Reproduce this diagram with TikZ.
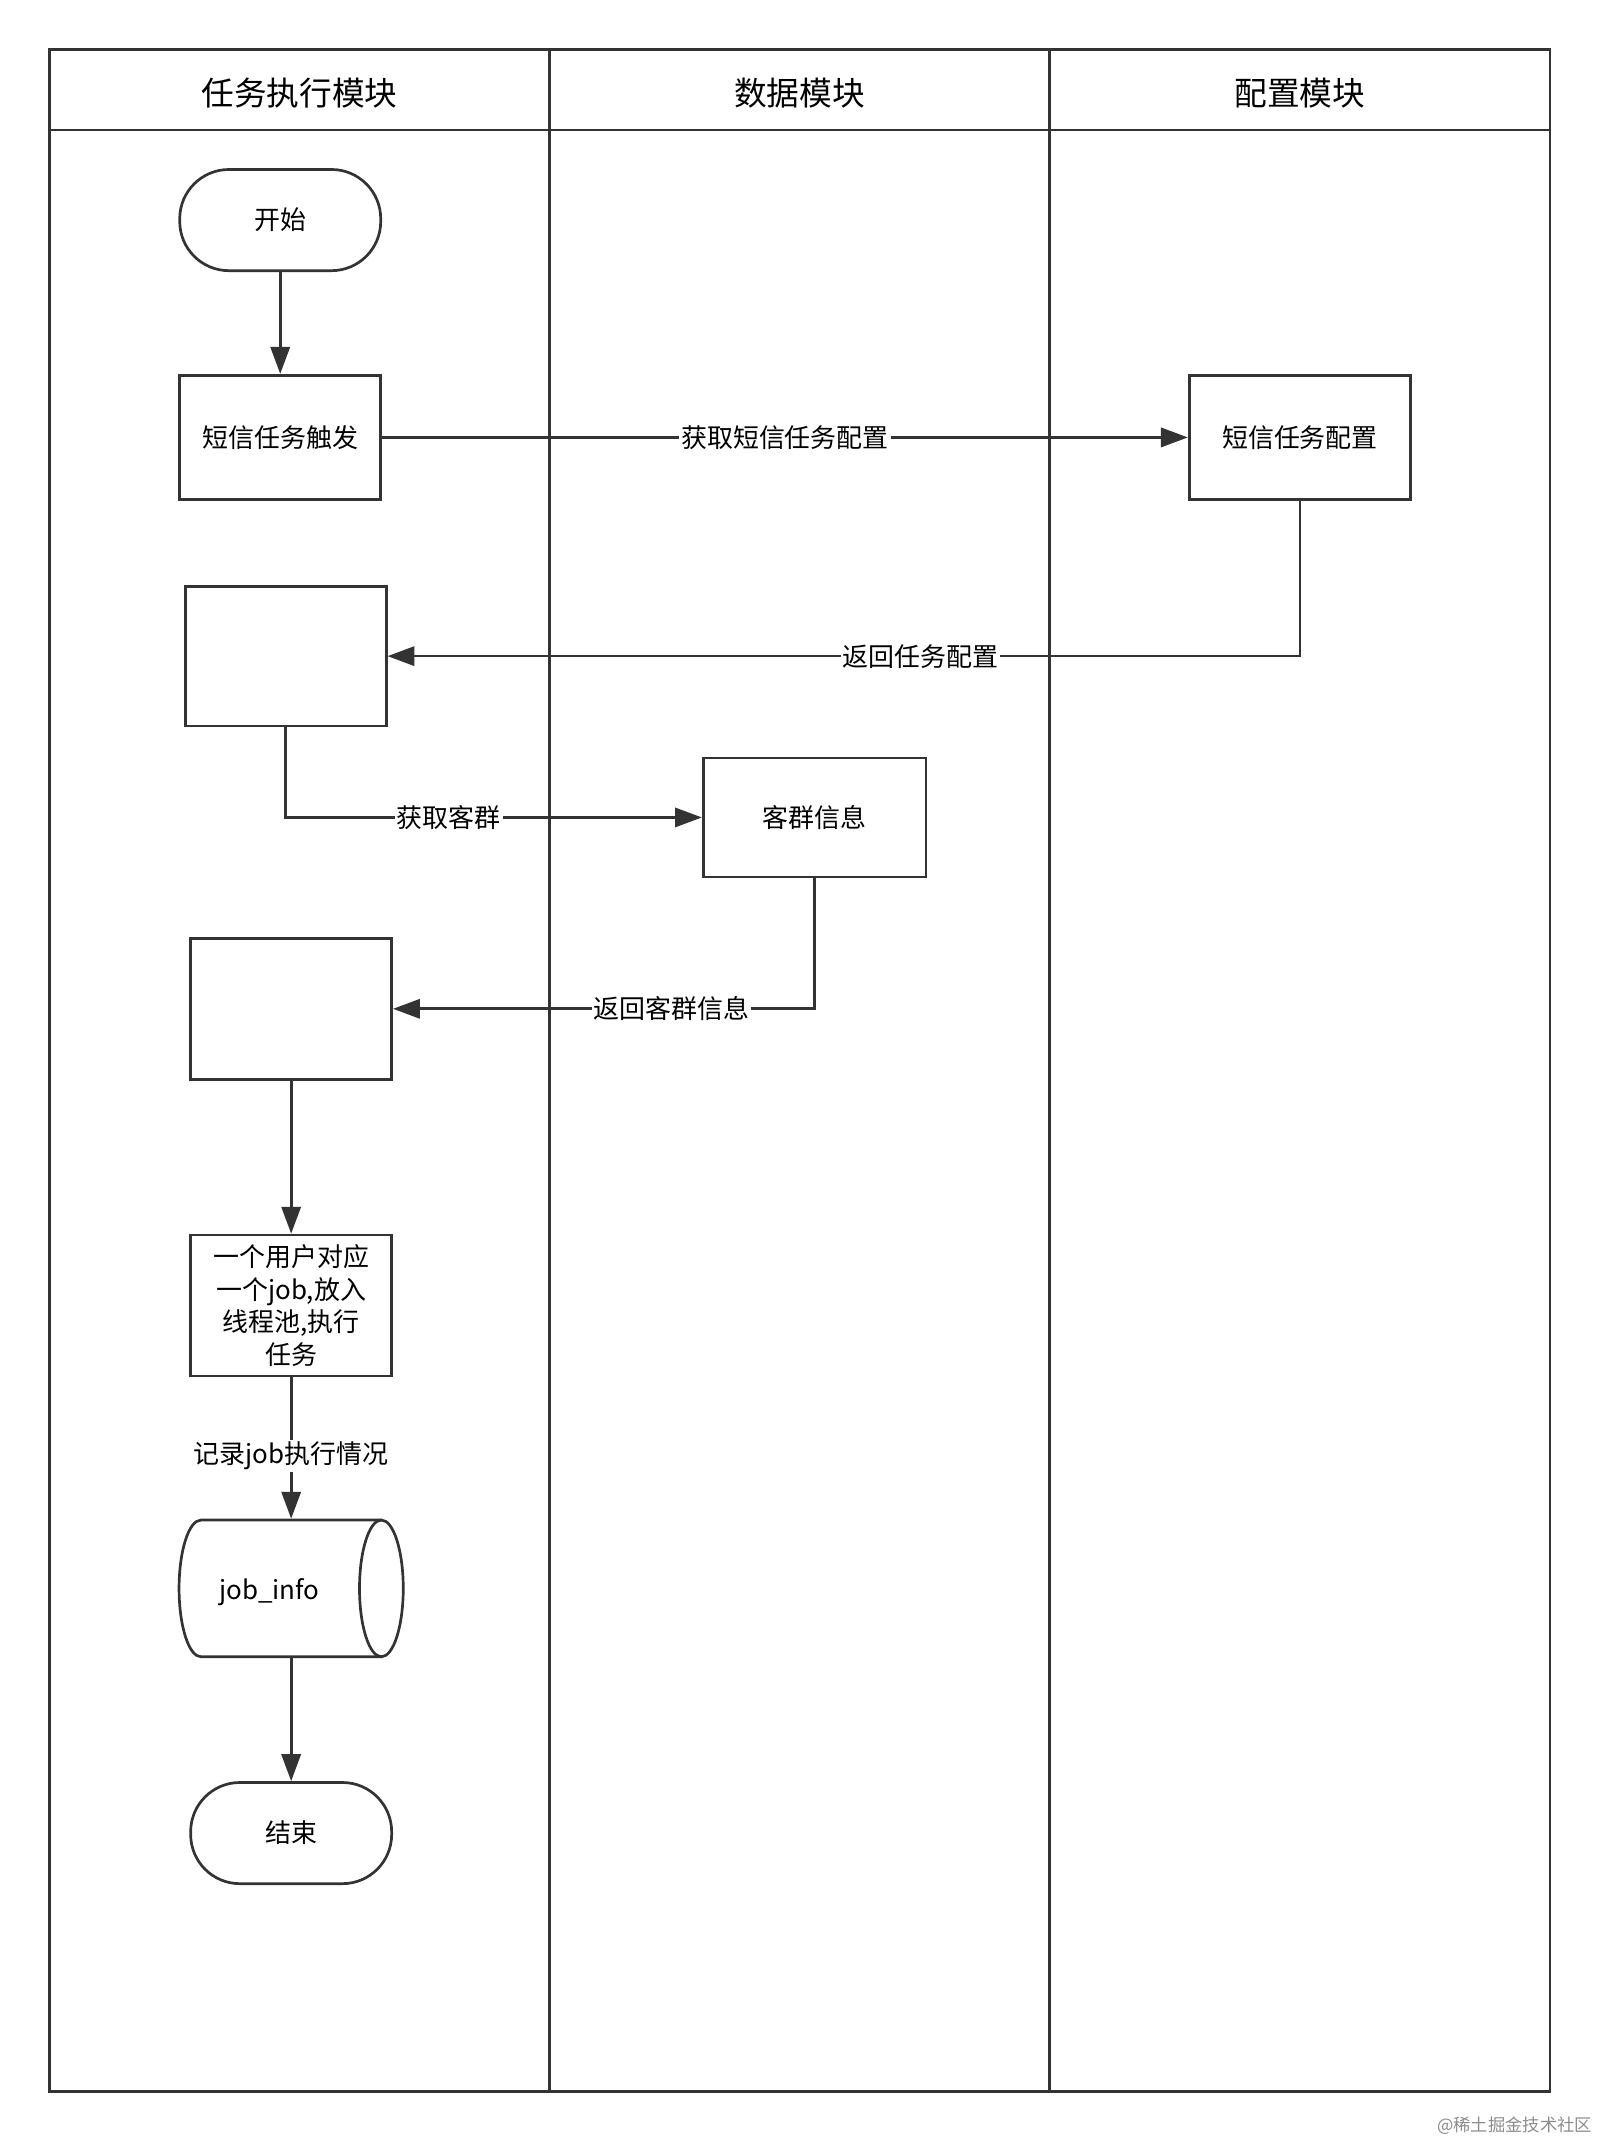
\documentclass[tikz,border=0pt]{standalone}
\usepackage{fontspec}
\setmainfont{Noto Sans CJK SC}
\usetikzlibrary{shapes.geometric,arrows.meta,positioning}

\begin{document}
\begin{tikzpicture}[
    x=0.025cm, y=-0.025cm,
    line width=1.4pt, draw=black!80,
    box/.style={rectangle, draw=black!80, line width=1.4pt, minimum width=3.675cm, minimum height=2.275cm, align=center, font=\fontsize{13.5}{17}\selectfont},
    term/.style={box, rounded corners=0.9cm, minimum height=1.85cm},
    lbl/.style={fill=white, inner sep=1pt, font=\fontsize{13.5}{17}\selectfont},
    head/.style={font=\fontsize{17}{20}\selectfont},
    arrow/.style={-{Triangle[length=14pt,width=10pt]}, line width=1.4pt, draw=black!80}
]
\useasboundingbox (0,0) rectangle (1170,1567);
% lanes
\draw (36,36) rectangle (1134,1530);
\draw (36,95) -- (1134,95);
\draw (402,36) -- (402,1530);
\draw (768,36) -- (768,1530);
\node[head] (h1) at (219,68) {任务执行模块};
\node[head] (h2) at (585,68) {数据模块};
\node[head] (h3) at (951,68) {配置模块};

% nodes
\node[term] (start) at (205,161) {开始};
\node[box] (trig) at (205,320) {短信任务触发};
\node[box, minimum width=4.05cm] (conf) at (951,320) {短信任务配置};
\node[box, minimum height=2.55cm] (b1) at (209,480) {};
\node[box, minimum width=4.075cm, minimum height=2.175cm] (cust) at (596,598) {客群信息};
\node[box, minimum height=2.575cm] (b2) at (213,738) {};
\node[box, minimum height=2.575cm, inner sep=1pt] (job) at (213,955) {一个用户对应\\一个job,放入\\线程池,执行\\任务};
\node[rectangle, minimum width=4.1cm, minimum height=2.5cm, inner sep=0pt] (info) at (213,1162) {};
\draw (279,1112) -- (147,1112) arc (90:270:0.4cm and 1.25cm) -- (279,1212);
\draw (279,1162) ellipse (0.4cm and 1.25cm);
\node[font=\fontsize{13.5}{17}\selectfont] (infotext) at (197,1165) {job\_info};
\node[term] (end) at (213,1341) {结束};

% connectors
\draw[arrow] (start) -- (trig);
\draw[arrow] (trig) -- node[lbl] {获取短信任务配置} (conf);
\draw[arrow] (conf.south) |- node[lbl, pos=0.708] {返回任务配置} (b1.east);
\draw[arrow] (b1.south) |- node[lbl, pos=0.696] {获取客群} (cust.west);
\draw[arrow] (cust.south) |- node[lbl, pos=0.67] {返回客群信息} (b2.east);
\draw[arrow] (b2) -- (job);
\draw[arrow] (job) -- node[lbl, yshift=-0.15cm] {记录job执行情况} (info);
\draw[arrow] (info) -- (end);

\node[font=\fontsize{9}{11}\selectfont, text=black!45] (mark) at (1108,1555) {@稀土掘金技术社区};
\end{tikzpicture}
\end{document}
